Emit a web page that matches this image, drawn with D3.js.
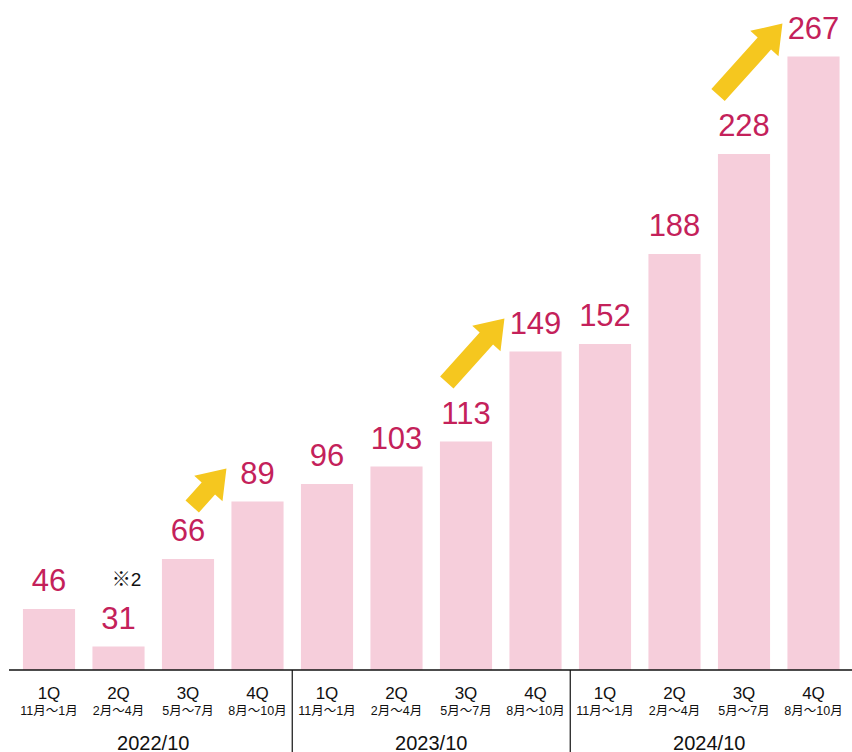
<!DOCTYPE html>
<html>
<head>
<meta charset="utf-8">
<script src="https://cdn.jsdelivr.net/npm/d3@7"></script>
<style>
  html, body { margin: 0; padding: 0; background: #fff; }
  svg { display: block; font-family: "Liberation Sans", Arial, "Noto Sans CJK JP", sans-serif; }
</style>
</head>
<body>
<div id="stage"></div>
<script>
const years = ['2022/10', '2023/10', '2024/10'];
const quarters = ['1Q', '2Q', '3Q', '4Q'];
const months = ['11月〜1月', '2月〜4月', '5月〜7月', '8月〜10月'];
const values = [46, 31, 66, 89, 96, 103, 113, 149, 152, 188, 228, 267];
const notes = [{ index: 1, text: '※2' }];
// arrows go from one bar's label to another's
const arrows = [[2, 3], [6, 7], [10, 11]];

const width = 852;
const height = 752;
const baseY = 670;

const svg = d3.select('#stage').append('svg')
  .attr('width', width)
  .attr('height', height);

const x = d3.scaleBand()
  .domain(d3.range(values.length))
  .range([14.25, 848.25])
  .paddingInner(0.25)
  .paddingOuter(0.125);

const y = d3.scaleLinear()
  .domain([21.6, 267])
  .range([baseY, 56.5]);

// bars
svg.selectAll('rect.bar')
  .data(values)
  .enter()
  .append('rect')
  .attr('class', 'bar')
  .attr('x', (d, i) => x(i))
  .attr('y', (d) => y(d))
  .attr('width', x.bandwidth())
  .attr('height', (d) => baseY - y(d))
  .attr('fill', '#f6cedb');

// value labels
svg.selectAll('text.val')
  .data(values)
  .enter()
  .append('text')
  .attr('class', 'val')
  .attr('x', (d, i) => x(i) + x.bandwidth() / 2)
  .attr('y', (d) => y(d) - 18)
  .attr('text-anchor', 'middle')
  .attr('font-size', 31)
  .attr('fill', '#c4215a')
  .text((d) => d);

svg.selectAll('text.note')
  .data(notes)
  .enter()
  .append('text')
  .attr('class', 'note')
  .attr('x', (d) => x(d.index) + x.bandwidth() / 2 + 8)
  .attr('y', (d) => y(values[d.index]) - 61)
  .attr('text-anchor', 'middle')
  .attr('font-size', 19)
  .attr('fill', '#111')
  .text((d) => d.text);

// yellow arrows
const arrowPath = (len) => {
  const hw = 9;   // half shaft
  const hh = 19;  // half head
  const hl = 27;  // head length
  return `M0,${-hw} L${len - hl},${-hw} L${len - hl},${-hh} L${len},0 L${len - hl},${hh} L${len - hl},${hw} L0,${hw} Z`;
};

const arrowAngle = 48 * Math.PI / 180;
const arrowEnds = ([a, b]) => {
  const x1 = x(b) - 5;
  const y1 = y(values[b]) - 33;
  const rise = Math.max(y(values[a]) - 59 - y1, 38);
  return { x0: x1 - rise / Math.tan(arrowAngle), y0: y1 + rise, x1, y1 };
};

svg.selectAll('path.arrow')
  .data(arrows)
  .enter()
  .append('path')
  .attr('class', 'arrow')
  .attr('fill', '#f5c71f')
  .attr('d', (d) => {
    const e = arrowEnds(d);
    return arrowPath(Math.hypot(e.x1 - e.x0, e.y1 - e.y0));
  })
  .attr('transform', (d) => {
    const e = arrowEnds(d);
    const ang = Math.atan2(e.y1 - e.y0, e.x1 - e.x0) * 180 / Math.PI;
    return `translate(${e.x0},${e.y0}) rotate(${ang})`;
  });

// baseline and group dividers
svg.append('line')
  .attr('x1', 9).attr('x2', width)
  .attr('y1', baseY).attr('y2', baseY)
  .attr('stroke', '#111')
  .attr('stroke-width', 1.5);

const groupEdge = (g) => x.range()[0] + g * 4 * x.step();

svg.selectAll('line.div')
  .data(d3.range(1, years.length))
  .enter()
  .append('line')
  .attr('class', 'div')
  .attr('x1', (g) => groupEdge(g))
  .attr('x2', (g) => groupEdge(g))
  .attr('y1', baseY)
  .attr('y2', height)
  .attr('stroke', '#111')
  .attr('stroke-width', 1.2);

// tick labels
const ticks = svg.selectAll('g.tick')
  .data(values)
  .enter()
  .append('g')
  .attr('class', 'tick')
  .attr('transform', (d, i) => `translate(${x(i) + x.bandwidth() / 2},0)`);

ticks.append('text')
  .attr('y', 699)
  .attr('text-anchor', 'middle')
  .attr('font-size', 17)
  .attr('fill', '#111')
  .text((d, i) => quarters[i % 4]);

ticks.append('text')
  .attr('y', 715)
  .attr('text-anchor', 'middle')
  .attr('font-size', 12.5)
  .attr('fill', '#111')
  .text((d, i) => months[i % 4]);

svg.selectAll('text.year')
  .data(years)
  .enter()
  .append('text')
  .attr('class', 'year')
  .attr('x', (d, g) => (groupEdge(g) + groupEdge(g + 1)) / 2)
  .attr('y', 749.5)
  .attr('text-anchor', 'middle')
  .attr('font-size', 20)
  .attr('fill', '#111')
  .text((d) => d);
</script>
</body>
</html>
